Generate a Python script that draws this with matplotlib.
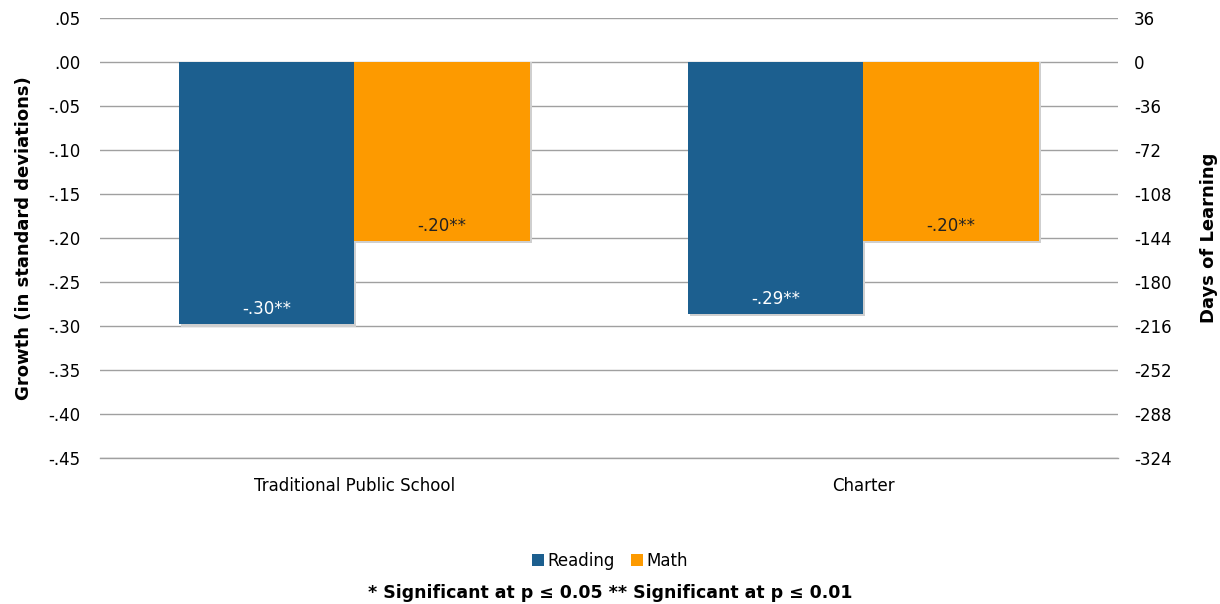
import matplotlib
matplotlib.use("Agg")
import matplotlib.pyplot as plt
import numpy as np

categories = ["Traditional Public School", "Charter"]
reading = [-0.298, -0.286]
math_vals = [-0.203, -0.203]
reading_labels = ["-.30**", "-.29**"]
math_labels = ["-.20**", "-.20**"]
left_ticks = [0.05, 0.0, -0.05, -0.10, -0.15, -0.20, -0.25, -0.30, -0.35, -0.40, -0.45]
right_ticks = [36, 0, -36, -72, -108, -144, -180, -216, -252, -288, -324]

BLUE = "#1c5f8f"
ORANGE = "#fd9a00"
plt.rcParams["font.family"] = "DejaVu Sans"

fig = plt.figure(figsize=(12.2, 6.04), dpi=100)
ax = fig.add_axes([0.082, 0.242, 0.834, 0.728])
x = np.arange(len(categories))
w = 0.345

# faint drop shadow under the bars
for xs, vals in ((x - w / 2, reading), (x + w / 2, math_vals)):
    ax.bar(xs + 0.004, np.array(vals) - 0.003, w, color="#cfcfcf", zorder=2)
b1 = ax.bar(x - w / 2, reading, w, color=BLUE, label="Reading", zorder=3)
b2 = ax.bar(x + w / 2, math_vals, w, color=ORANGE, label="Math", zorder=3)
for rect, lab in zip(b1, reading_labels):
    ax.text(rect.get_x() + w / 2, rect.get_height() + 0.017, lab, ha="center",
            va="center", color="white", fontsize=12)
for rect, lab in zip(b2, math_labels):
    ax.text(rect.get_x() + w / 2, rect.get_height() + 0.017, lab, ha="center",
            va="center", color="#222222", fontsize=12)

ax.set_xlim(-0.5, 1.5)
ax.set_ylim(-0.45, 0.05)
ax.set_yticks(left_ticks)
ax.set_yticklabels([f"{t:.2f}".replace("0.", ".") for t in left_ticks], fontsize=12)
ax.set_xticks(x)
ax.set_xticklabels(categories, fontsize=12)
ax.yaxis.grid(True, color="#a0a0a0", linewidth=1, zorder=0)
ax.axhline(-0.45, color="#a0a0a0", linewidth=1, zorder=0, clip_on=False)
for s in ax.spines.values():
    s.set_visible(False)
ax.tick_params(axis="y", length=0, pad=14)
ax.tick_params(axis="x", length=0, pad=14)
ax.set_ylabel("Growth (in standard deviations)", fontsize=13, fontweight="bold", labelpad=11)

ax2 = ax.twinx()
ax2.set_ylim(-324, 36)
ax2.set_yticks(right_ticks)
ax2.set_yticklabels([str(t) for t in right_ticks], fontsize=12)
for s in ax2.spines.values():
    s.set_visible(False)
ax2.tick_params(length=0, pad=12)
ax2.set_ylabel("Days of Learning", fontsize=13, fontweight="bold", labelpad=20)

fig.legend(handles=[b1, b2], loc="center", bbox_to_anchor=(0.5, 0.071), ncol=2,
           frameon=False, fontsize=12, handlelength=0.7, handleheight=0.7,
           handletextpad=0.2, columnspacing=1.0)
fig.text(0.5, 0.019, "* Significant at p \u2264 0.05 ** Significant at p \u2264 0.01",
         ha="center", va="center", fontsize=12.5, fontweight="bold")

fig.savefig("out.png", dpi=100)
